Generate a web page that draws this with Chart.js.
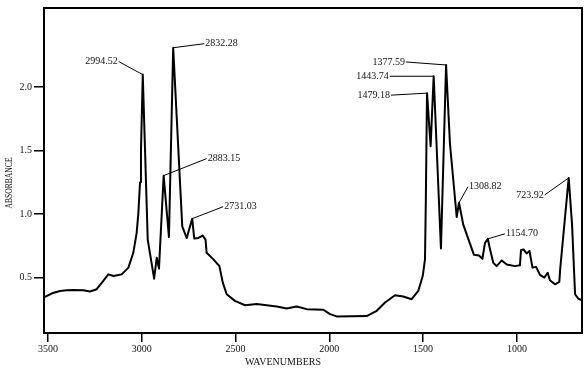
<!DOCTYPE html>
<html>
<head>
<meta charset="utf-8">
<script src="https://cdn.jsdelivr.net/npm/chart.js@4.4.1/dist/chart.umd.min.js"></script>
<style>
  html, body { margin: 0; padding: 0; background: #fff; }
  #wrap { width: 586px; height: 372px; }
</style>
</head>
<body>
<div id="wrap"><canvas id="irChart" width="586" height="372"></canvas></div>
<script>
// spectrum (wavenumber, absorbance)
const wavenumbers = [3521, 3478, 3436, 3400, 3365, 3311, 3276, 3240, 3205, 3178, 3151, 3107, 3071, 3045, 3027, 3018, 3009, 3004,
    2994.52, 2968, 2934, 2920, 2908, 2883.15, 2855, 2832.28, 2784, 2760, 2731.03, 2720, 2698, 2675, 2660, 2654, 2618, 2586,
    2568, 2547, 2503, 2449, 2387, 2334, 2280, 2227, 2174, 2120, 2032, 1996, 1961, 1801, 1747, 1703, 1650, 1606, 1561, 1526,
    1502, 1490, 1485.5, 1479.18, 1460, 1443.74, 1405, 1377.59, 1357, 1321, 1308.82, 1286, 1229, 1202, 1184, 1170, 1154.70,
    1147, 1126, 1108, 1081, 1054, 1010, 984, 978, 965, 948, 933, 917, 898, 877, 854, 836, 824, 797, 774, 769, 723.92, 706,
    690, 672, 653];
const absorbance = [0.342, 0.375, 0.393, 0.399, 0.401, 0.399, 0.389, 0.407, 0.472, 0.524, 0.511, 0.524, 0.577, 0.694, 0.851, 1.007, 1.25, 1.5,
    2.098, 0.798, 0.49, 0.655, 0.569, 1.302, 0.818, 2.31, 0.902, 0.81, 0.963, 0.806, 0.811, 0.83, 0.798, 0.694, 0.642, 0.589,
    0.459, 0.367, 0.315, 0.281, 0.291, 0.281, 0.271, 0.255, 0.271, 0.25, 0.245, 0.211, 0.193, 0.195, 0.237, 0.302, 0.36, 0.35, 0.328, 0.393,
    0.511, 0.642, 1.11, 1.952, 1.534, 2.085, 0.728, 2.174, 1.555, 0.976, 1.088, 0.916, 0.678, 0.673, 0.647, 0.772, 0.804,
    0.746, 0.616, 0.589, 0.634, 0.602, 0.589, 0.595, 0.716, 0.72, 0.689, 0.708, 0.577, 0.583, 0.52, 0.498, 0.537, 0.477, 0.446, 0.464, 0.569, 1.284, 0.916,
    0.367, 0.332, 0.32];

const peakWavenumbers = [2994.52, 2832.28, 2883.15, 2731.03, 1479.18, 1443.74, 1377.59, 1308.82, 1154.70, 723.92];
const xTicks = [3500, 3000, 2500, 2000, 1500, 1000];
const yTicks = [0.5, 1.0, 1.5, 2.0];

// leader end offsets from the peak (px) and which side the text sits on
const peakLabelLayout = [
    { dx: -24, dy: -13, side: 'left' },
    { dx: 31, dy: -4, side: 'right' },
    { dx: 43, dy: -17, side: 'right' },
    { dx: 31, dy: -12, side: 'right' },
    { dx: -36, dy: 2, side: 'left' },
    { dx: -44, dy: 0, side: 'left' },
    { dx: -40, dy: -3, side: 'left' },
    { dx: 9, dy: -16, side: 'right' },
    { dx: 17, dy: -5, side: 'right' },
    { dx: -24, dy: 17, side: 'left' }
];

const serif = '"Liberation Serif", "DejaVu Serif", serif';

const framePlugin = {
    id: 'frame',
    afterDatasetsDraw(chart) {
        const { ctx, chartArea: a } = chart;
        ctx.save();
        ctx.strokeStyle = '#000';
        ctx.lineWidth = 2;
        ctx.strokeRect(a.left, a.top, a.right - a.left, a.bottom - a.top);
        ctx.restore();
    }
};

const peakPlugin = {
    id: 'peaks',
    afterDatasetsDraw(chart) {
        const { ctx, scales } = chart;
        ctx.save();
        ctx.font = '10px ' + serif;
        ctx.fillStyle = '#111';
        ctx.strokeStyle = '#000';
        ctx.lineWidth = 1;
        ctx.textBaseline = 'middle';
        peakWavenumbers.forEach((w, i) => {
            const idx = wavenumbers.indexOf(w);
            const px = scales.x.getPixelForValue(w);
            const py = scales.y.getPixelForValue(absorbance[idx]);
            const l = peakLabelLayout[i];
            const ex = px + l.dx, ey = py + l.dy;
            ctx.beginPath();
            ctx.moveTo(px, py);
            ctx.lineTo(ex, ey);
            ctx.stroke();
            ctx.textAlign = l.side === 'left' ? 'right' : 'left';
            ctx.fillText(w.toFixed(2), l.side === 'left' ? ex - 1 : ex + 1, ey);
        });
        ctx.restore();
    }
};

const axisTitlePlugin = {
    id: 'axisTitles',
    afterDraw(chart) {
        const { ctx } = chart;
        ctx.save();
        ctx.fillStyle = '#111';
        ctx.font = '10px ' + serif;
        ctx.textAlign = 'center';
        ctx.textBaseline = 'middle';
        ctx.fillText('WAVENUMBERS', 283, 362);
        ctx.translate(9, 183);
        ctx.rotate(-Math.PI / 2);
        ctx.scale(0.76, 1);
        ctx.fillText('ABSORBANCE', 0, 0);
        ctx.restore();
    }
};

new Chart(document.getElementById('irChart'), {
    type: 'line',
    data: {
        datasets: [{
            data: wavenumbers.map((w, i) => ({ x: w, y: absorbance[i] })),
            borderColor: '#000',
            borderWidth: 2,
            pointRadius: 0,
            tension: 0,
            fill: false,
            borderJoinStyle: 'round'
        }]
    },
    options: {
        responsive: false,
        animation: false,
        layout: { padding: { top: 7, right: 4, left: 0, bottom: 0 } },
        plugins: { legend: { display: false }, tooltip: { enabled: false } },
        scales: {
            x: {
                type: 'linear',
                reverse: true,
                min: 653,
                max: 3521,
                afterBuildTicks: (s) => { s.ticks = xTicks.map((v) => ({ value: v })); },
                afterFit: (s) => { s.height = 39; s.paddingLeft = 0; s.paddingRight = 0; },
                border: { display: false },
                grid: { display: true, drawOnChartArea: false, drawTicks: true, tickLength: 9, color: '#000', lineWidth: 1.5 },
                ticks: { color: '#111', font: { family: serif, size: 10 }, padding: 1, maxRotation: 0, autoSkip: false, callback: (v) => String(v) }
            },
            y: {
                min: 0.062,
                max: 2.623,
                afterBuildTicks: (s) => { s.ticks = yTicks.map((v) => ({ value: v })); },
                afterFit: (s) => { s.width = 44; },
                border: { display: false },
                grid: { display: true, drawOnChartArea: false, drawTicks: true, tickLength: 10, color: '#000', lineWidth: 1.5 },
                ticks: { color: '#111', font: { family: serif, size: 10 }, padding: 2, callback: (v) => v.toFixed(1) }
            }
        }
    },
    plugins: [framePlugin, peakPlugin, axisTitlePlugin]
});
</script>
</body>
</html>
